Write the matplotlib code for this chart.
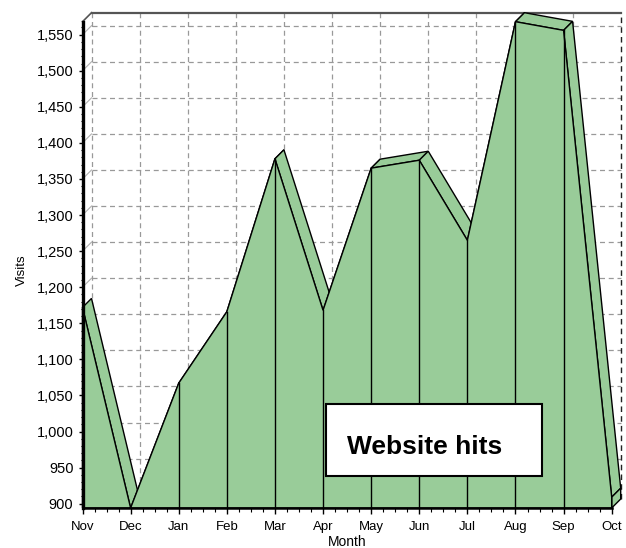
import numpy as np
import matplotlib
matplotlib.use("Agg")
import matplotlib.pyplot as plt
from matplotlib.patches import Polygon, Rectangle
from matplotlib.ticker import MultipleLocator, FuncFormatter

plt.rcParams['font.family'] = ['Liberation Sans', 'DejaVu Sans']

# data
months = ['Nov', 'Dec', 'Jan', 'Feb', 'Mar', 'Apr', 'May', 'Jun', 'Jul', 'Aug', 'Sep', 'Oct']
visits = [1172, 894, 1067, 1166, 1378, 1168, 1365, 1376, 1265, 1568, 1556, 909]
series_name = 'Website hits'

green = '#99cc99'
W, H = 626, 548
fig = plt.figure(figsize=(W / 100, H / 100), dpi=100)

# front plane of the pseudo-3D box, in pixels
left, right, top, bottom = 82.5, 611.7, 21.7, 508
ax = fig.add_axes([left / W, 1 - bottom / H, (right - left) / W, (bottom - top) / H])
ax.patch.set_visible(False)

x = np.arange(len(months))
ymin, ymax = min(visits), max(visits)
ax.set_xlim(0, len(months) - 1)
ax.set_ylim(ymin, ymax)

# depth offset: 9 px right, 9 px up, converted to data units
depth_px = 9
dx = depth_px * (len(months) - 1) / (right - left)
dy = depth_px * (ymax - ymin) / (bottom - top)

# back wall grid
grid_kw = dict(color='#999999', lw=0.9, ls=(0, (4, 3)), clip_on=False, zorder=1)
yt = np.arange(900, ymax + 1, 50)
for v in yt:
    ax.plot([dx, x[-1] + dx], [v + dy, v + dy], **grid_kw)
    ax.plot([0, dx], [v, v + dy], color='#b0b0b0', lw=0.8, clip_on=False, zorder=1)
for xi in x[:-1]:
    ax.plot([xi + dx, xi + dx], [ymin + dy, ymax + dy], **grid_kw)
ax.plot([x[-1] + dx, x[-1] + dx], [ymin + dy, ymax + dy], color='#222222', lw=1.0,
        ls=(0, (4, 3)), clip_on=False, zorder=1)
ax.plot([dx, x[-1] + dx], [ymax + dy, ymax + dy], color='#555555', lw=1.6, clip_on=False, zorder=1)
ax.plot([0, dx], [ymax, ymax + dy], color='#555555', lw=1.2, clip_on=False, zorder=1)

# top faces of the ribbon
for i in range(len(x) - 1):
    quad = [(x[i], visits[i]), (x[i + 1], visits[i + 1]),
            (x[i + 1] + dx, visits[i + 1] + dy), (x[i] + dx, visits[i] + dy)]
    ax.add_patch(Polygon(quad, closed=True, fc=green, ec='black', lw=1.0,
                         clip_on=False, zorder=2))
# right end cap
cap = [(x[-1], ymin), (x[-1], visits[-1]), (x[-1] + dx, visits[-1] + dy), (x[-1] + dx, ymin + dy)]
ax.add_patch(Polygon(cap, closed=True, fc=green, ec='black', lw=1.0, clip_on=False, zorder=2))

# front face
front = [(x[0], ymin)] + list(zip(x, visits)) + [(x[-1], ymin)]
ax.add_patch(Polygon(front, closed=True, fc=green, ec='black', lw=1.0, clip_on=False, zorder=3))
for xi, v in zip(x[1:-1], visits[1:-1]):
    ax.plot([xi, xi], [ymin, v], color='black', lw=1.0, zorder=4)

# axes
for s in ['top', 'right']:
    ax.spines[s].set_visible(False)
ax.spines['left'].set_linewidth(2.4)
ax.spines['bottom'].set_linewidth(1.8)
ax.spines['left'].set_zorder(6)
ax.spines['bottom'].set_zorder(6)

ax.set_xticks(x)
ax.set_xticklabels(months)
ax.xaxis.set_minor_locator(MultipleLocator(0.25))
ax.set_yticks(yt)
ax.yaxis.set_minor_locator(MultipleLocator(10))
ax.yaxis.set_major_formatter(FuncFormatter(lambda v, p: f'{int(v):,}'))
ax.tick_params(axis='y', which='major', length=3, width=1, pad=3.5, labelsize=10.5)
ax.tick_params(axis='y', which='minor', length=1.5, width=0.8)
ax.tick_params(axis='x', which='major', length=4, width=1, pad=5.5, labelsize=9.5)
ax.tick_params(axis='x', which='minor', length=3, width=0.8)

ax.set_xlabel('Month', fontsize=10, labelpad=1.5)
ax.set_ylabel('Visits', fontsize=9.5)
ax.yaxis.set_label_coords(-0.104, 0.49)

# series label box
fig.patches.append(Rectangle((326 / W, 1 - 476 / H), 216 / W, 72 / H, transform=fig.transFigure,
                             fc='white', ec='black', lw=1.5, zorder=10))
fig.text(347 / W, 1 - 454 / H, series_name, fontsize=19, fontweight='bold',
         ha='left', va='baseline', zorder=11)

fig.savefig('out.png', dpi=100)
